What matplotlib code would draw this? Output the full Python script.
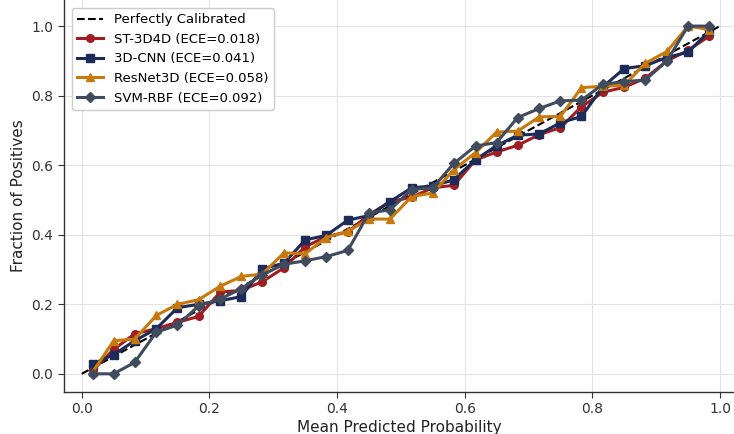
"""Reliability diagram: fraction of positives vs. mean predicted probability per model."""

import matplotlib.pyplot as plt

# Bin centres (30 equal-width bins on [0, 1])
bin_centers = [0.017, 0.050, 0.083, 0.117, 0.150, 0.183, 0.217, 0.250, 0.283, 0.317,
               0.350, 0.383, 0.417, 0.450, 0.483, 0.517, 0.550, 0.583, 0.617, 0.650,
               0.683, 0.717, 0.750, 0.783, 0.817, 0.850, 0.883, 0.917, 0.950, 0.983]

st3d4d = [0.010, 0.070, 0.115, 0.130, 0.148, 0.165, 0.235, 0.240, 0.265, 0.305,
          0.365, 0.395, 0.408, 0.457, 0.495, 0.508, 0.535, 0.542, 0.615, 0.638,
          0.657, 0.688, 0.708, 0.768, 0.810, 0.824, 0.850, 0.900, 0.930, 0.971]

cnn3d = [0.028, 0.055, 0.095, 0.130, 0.190, 0.200, 0.210, 0.222, 0.302, 0.318,
         0.385, 0.398, 0.442, 0.455, 0.495, 0.535, 0.540, 0.558, 0.616, 0.656,
         0.686, 0.690, 0.722, 0.740, 0.826, 0.878, 0.886, 0.910, 0.925, 0.985]

resnet3d = [0.005, 0.095, 0.100, 0.168, 0.200, 0.213, 0.252, 0.280, 0.287, 0.348,
            0.345, 0.392, 0.410, 0.445, 0.445, 0.510, 0.520, 0.587, 0.636, 0.695,
            0.698, 0.739, 0.740, 0.823, 0.827, 0.830, 0.893, 0.927, 1.000, 0.990]

svm_rbf = [0.000, 0.000, 0.033, 0.120, 0.140, 0.195, 0.215, 0.245, 0.285, 0.315,
           0.325, 0.337, 0.355, 0.462, 0.472, 0.530, 0.535, 0.605, 0.655, 0.665,
           0.737, 0.763, 0.785, 0.787, 0.833, 0.840, 0.845, 0.900, 1.000, 1.000]

models = [
    ("ST-3D4D",  0.018, st3d4d,   "#A01E22", "o"),
    ("3D-CNN",   0.041, cnn3d,    "#1C2B57", "s"),
    ("ResNet3D", 0.058, resnet3d, "#C7790C", "^"),
    ("SVM-RBF",  0.092, svm_rbf,  "#404B5D", "D"),
]

fig = plt.figure(figsize=(7.34, 4.34), dpi=100)
ax = fig.add_axes([0.087, 0.097, 0.913, 0.903])

ax.plot([0, 1], [0, 1], "k--", lw=1.5, label="Perfectly Calibrated", zorder=2)

for name, ece, values, color, marker in models:
    ax.plot(bin_centers, values, color=color, marker=marker, markersize=5.5,
            lw=2.2, label=f"{name} (ECE={ece:.3f})", zorder=3)

ax.set_xlim(-0.028, 1.022)
ax.set_ylim(-0.052, 1.075)
ax.set_xticks([0.0, 0.2, 0.4, 0.6, 0.8, 1.0])
ax.set_yticks([0.0, 0.2, 0.4, 0.6, 0.8, 1.0])
ax.grid(True, color="#e3e3e3", lw=0.8)
ax.set_axisbelow(True)

for side in ("top", "right"):
    ax.spines[side].set_visible(False)
for side in ("left", "bottom"):
    ax.spines[side].set_color("#333333")
    ax.spines[side].set_linewidth(1.0)
ax.tick_params(colors="#333333", labelsize=10, length=4)

ax.set_xlabel("Mean Predicted Probability", fontsize=11, color="#222222", labelpad=3)
ax.set_ylabel("Fraction of Positives", fontsize=11, color="#222222")

ax.legend(loc="upper left", fontsize=9.5, frameon=True, edgecolor="#cccccc",
          framealpha=1.0, borderaxespad=0.6)

fig.savefig("out.png", dpi=100)
